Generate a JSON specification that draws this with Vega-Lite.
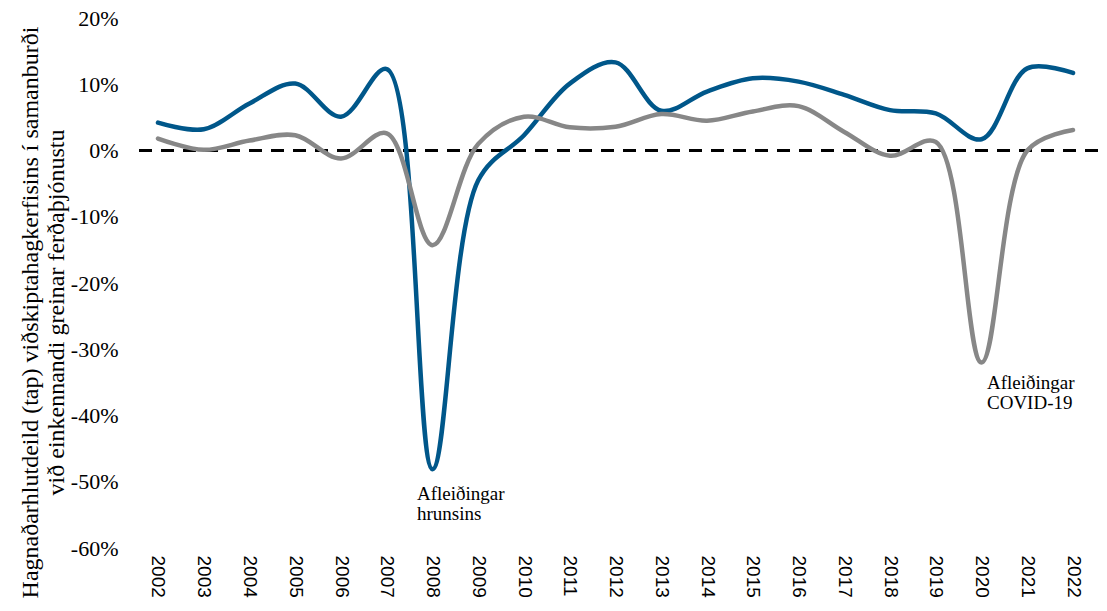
{
  "$schema": "https://vega.github.io/schema/vega-lite/v6.json",
  "width": 961,
  "height": 530,
  "autosize": {"type": "none"},
  "padding": {"left": 137, "top": 18, "right": 9, "bottom": 63},
  "background": "white",
  "config": {"view": {"stroke": null}},
  "datasets": {
    "main": [
      {"year": 2002, "series": "Viðskiptahagkerfið", "value": 4.2},
      {"year": 2003, "series": "Viðskiptahagkerfið", "value": 3.2},
      {"year": 2004, "series": "Viðskiptahagkerfið", "value": 7.1},
      {"year": 2005, "series": "Viðskiptahagkerfið", "value": 10.1},
      {"year": 2006, "series": "Viðskiptahagkerfið", "value": 5.1},
      {"year": 2007, "series": "Viðskiptahagkerfið", "value": 12.3},
      {"year": 2008, "series": "Viðskiptahagkerfið", "value": -48.1},
      {"year": 2009, "series": "Viðskiptahagkerfið", "value": -4.5},
      {"year": 2010, "series": "Viðskiptahagkerfið", "value": 2.3},
      {"year": 2011, "series": "Viðskiptahagkerfið", "value": 10.1},
      {"year": 2012, "series": "Viðskiptahagkerfið", "value": 13.3},
      {"year": 2013, "series": "Viðskiptahagkerfið", "value": 6.0},
      {"year": 2014, "series": "Viðskiptahagkerfið", "value": 8.9},
      {"year": 2015, "series": "Viðskiptahagkerfið", "value": 10.9},
      {"year": 2016, "series": "Viðskiptahagkerfið", "value": 10.4},
      {"year": 2017, "series": "Viðskiptahagkerfið", "value": 8.4},
      {"year": 2018, "series": "Viðskiptahagkerfið", "value": 6.1},
      {"year": 2019, "series": "Viðskiptahagkerfið", "value": 5.6},
      {"year": 2020, "series": "Viðskiptahagkerfið", "value": 1.7},
      {"year": 2021, "series": "Viðskiptahagkerfið", "value": 12.4},
      {"year": 2022, "series": "Viðskiptahagkerfið", "value": 11.7},
      {"year": 2002, "series": "Ferðaþjónusta", "value": 1.8},
      {"year": 2003, "series": "Ferðaþjónusta", "value": 0.1},
      {"year": 2004, "series": "Ferðaþjónusta", "value": 1.5},
      {"year": 2005, "series": "Ferðaþjónusta", "value": 2.3},
      {"year": 2006, "series": "Ferðaþjónusta", "value": -1.2},
      {"year": 2007, "series": "Ferðaþjónusta", "value": 2.6},
      {"year": 2008, "series": "Ferðaþjónusta", "value": -14.3},
      {"year": 2009, "series": "Ferðaþjónusta", "value": 1.0},
      {"year": 2010, "series": "Ferðaþjónusta", "value": 5.1},
      {"year": 2011, "series": "Ferðaþjónusta", "value": 3.5},
      {"year": 2012, "series": "Ferðaþjónusta", "value": 3.6},
      {"year": 2013, "series": "Ferðaþjónusta", "value": 5.5},
      {"year": 2014, "series": "Ferðaþjónusta", "value": 4.5},
      {"year": 2015, "series": "Ferðaþjónusta", "value": 5.9},
      {"year": 2016, "series": "Ferðaþjónusta", "value": 6.7},
      {"year": 2017, "series": "Ferðaþjónusta", "value": 2.8},
      {"year": 2018, "series": "Ferðaþjónusta", "value": -0.8},
      {"year": 2019, "series": "Ferðaþjónusta", "value": 1.3},
      {"year": 2020, "series": "Ferðaþjónusta", "value": -32.0},
      {"year": 2021, "series": "Ferðaþjónusta", "value": 0.0},
      {"year": 2022, "series": "Ferðaþjónusta", "value": 3.1}
    ],
    "notes": [
      {"year": 2007.66, "value": -52.75, "label": ["Afleiðingar", "hrunsins"]},
      {"year": 2020.12, "value": -36.0, "label": ["Afleiðingar", "COVID-19"]}
    ],
    "zero": [{"value": 0}]
  },
  "layer": [
    {
      "data": {"name": "zero"},
      "mark": {"type": "rule", "color": "black", "strokeWidth": 3, "strokeDash": [13, 9]},
      "encoding": {
        "y": {"field": "value", "type": "quantitative"}
      }
    },
    {
      "data": {"name": "main"},
      "mark": {"type": "line", "interpolate": "catmull-rom", "strokeWidth": 4.5, "strokeCap": "round"},
      "encoding": {
        "x": {
          "field": "year",
          "type": "quantitative",
          "scale": {"domain": [2001.541, 2022.546], "nice": false, "zero": false},
          "axis": {
            "values": [2002, 2003, 2004, 2005, 2006, 2007, 2008, 2009, 2010, 2011, 2012, 2013, 2014, 2015, 2016, 2017, 2018, 2019, 2020, 2021, 2022],
            "format": "d",
            "labelAngle": 90,
            "labelFont": "Liberation Sans",
            "labelFontSize": 19,
            "labelColor": "black",
            "labelPadding": 7,
            "ticks": false,
            "domain": false,
            "grid": false,
            "title": null,
            "labelOverlap": false
          }
        },
        "y": {
          "field": "value",
          "type": "quantitative",
          "scale": {"domain": [-60, 20], "nice": false},
          "axis": {
            "values": [-60, -50, -40, -30, -20, -10, 0, 10, 20],
            "labelExpr": "datum.value + '%'",
            "labelFont": "Liberation Serif",
            "labelFontSize": 22,
            "labelColor": "black",
            "labelPadding": 19,
            "ticks": false,
            "domain": false,
            "grid": false,
            "title": ["Hagnaðarhlutdeild (tap) viðskiptahagkerfisins í samanburði", "við einkennandi greinar ferðaþjónustu"],
            "titleFont": "Liberation Serif",
            "titleFontSize": 24,
            "titleFontWeight": "normal",
            "titleColor": "black",
            "titleAngle": -90,
            "titleAlign": "center",
            "titleBaseline": "alphabetic",
            "titleLineHeight": 26,
            "titleX": -100,
            "titleY": 294
          }
        },
        "color": {
          "field": "series",
          "type": "nominal",
          "scale": {"domain": ["Viðskiptahagkerfið", "Ferðaþjónusta"], "range": ["#00578a", "#878787"]},
          "legend": null
        }
      }
    },
    {
      "data": {"name": "notes"},
      "mark": {"type": "text", "font": "Liberation Serif", "fontSize": 19, "align": "left", "baseline": "alphabetic", "lineHeight": 20, "color": "black"},
      "encoding": {
        "x": {"field": "year", "type": "quantitative"},
        "y": {"field": "value", "type": "quantitative"},
        "text": {"field": "label"}
      }
    }
  ]
}
